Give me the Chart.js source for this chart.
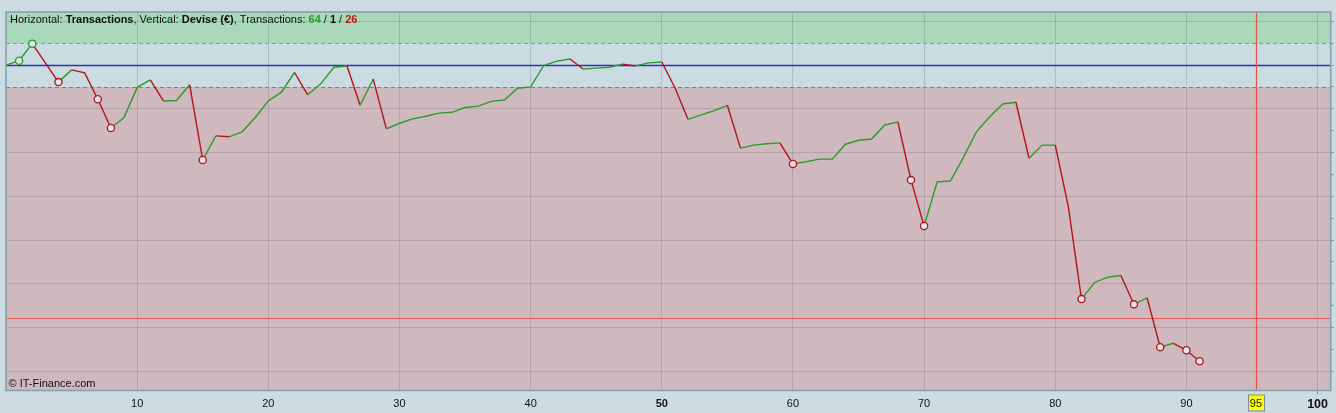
<!DOCTYPE html>
<html>
<head>
<meta charset="utf-8">
<script src="https://cdn.jsdelivr.net/npm/chart.js@4.4.1/dist/chart.umd.min.js"></script>
<style>
  html, body { margin: 0; padding: 0; background: #cddce3; }
  #wrap { width: 1336px; height: 413px; }
</style>
</head>
<body>
<div id="wrap"><canvas id="graph" width="1336" height="413"></canvas></div>
<script>
// Equity per transaction (0 = start)
const equity = [
  0, 0.1, 0.49, 0.05, -0.39, -0.11, -0.18, -0.78, -1.44, -1.2,
  -0.51, -0.34, -0.82, -0.81, -0.45, -2.17, -1.62, -1.64, -1.53, -1.2,
  -0.82, -0.62, -0.17, -0.68, -0.43, -0.05, -0.02, -0.92, -0.32, -1.46,
  -1.33, -1.23, -1.17, -1.1, -1.08, -0.97, -0.94, -0.83, -0.8, -0.53,
  -0.5, -0.01, 0.09, 0.14, -0.09, -0.07, -0.05, 0.02, -0.02, 0.05,
  0.07, -0.52, -1.24, -1.14, -1.04, -0.92, -1.9, -1.83, -1.8, -1.78,
  -2.26, -2.21, -2.15, -2.15, -1.81, -1.72, -1.69, -1.37, -1.3, -2.63,
  -3.68, -2.67, -2.65, -2.11, -1.52, -1.18, -0.89, -0.85, -2.13, -1.83,
  -1.83, -3.24, -5.35, -4.97, -4.85, -4.81, -5.47, -5.32, -6.45, -6.36,
  -6.52, -6.77
]
const upMarkers = [1, 2]
const downMarkers = [4, 7, 8, 15, 60, 69, 70, 82, 86, 88, 90, 91]

// the highlighted tick sits a little right of 95, its label is rounded
const highlightTick = 95.3
const xTickValues = [10, 20, 30, 40, 50, 60, 70, 80, 90, highlightTick, 100]
const boldTicks = [50, 100]
const yTickValues = [1, 0.5, 0, -0.5, -1, -1.5, -2, -2.5, -3, -3.5, -4, -4.5, -5, -5.5, -6, -6.5, -7]

const upperBand = 0.5
const baseLevel = 0
const lowerBand = -0.5
const stopLevel = -5.78

const counts = [64, 1, 26]

const COLOURS = Object.freeze({
  up: '#2b9b2b',
  down: '#b3141c',
  grid: 'rgba(85, 85, 85, 0.22)',
  bandUp: '#a9d8bb',
  bandMid: '#cadbe1',
  bandDown: '#cfb9be',
})

const FONT = 'Liberation Sans, Arial, sans-serif'

const isHighlight = (c) => c.tick && Math.abs(c.tick.value - highlightTick) < 0.01

/**
 * Coloured bands, level lines, the 95 tag, frame and captions.
 */
const decorations = {
  id: 'decorations',
  beforeDraw(chart) {
    const { ctx, chartArea: a, scales: { x, y } } = chart
    const yUp = y.getPixelForValue(upperBand)
    const yLow = y.getPixelForValue(lowerBand)
    ctx.save()
    ctx.fillStyle = COLOURS.bandUp
    ctx.fillRect(a.left, a.top, a.width, yUp - a.top)
    ctx.fillStyle = COLOURS.bandMid
    ctx.fillRect(a.left, yUp, a.width, yLow - yUp)
    ctx.fillStyle = COLOURS.bandDown
    ctx.fillRect(a.left, yLow, a.width, a.bottom - yLow)

    // yellow tag behind the 95 label
    const px = Math.round(x.getPixelForValue(highlightTick))
    ctx.fillStyle = '#ffff00'
    ctx.fillRect(px - 8, a.bottom + 4, 16, 16)
    ctx.strokeStyle = '#7f8c92'
    ctx.lineWidth = 1
    ctx.strokeRect(px - 7.5, a.bottom + 4.5, 16, 16)
    ctx.restore()
  },
  beforeDatasetsDraw(chart) {
    const { ctx, chartArea: a, scales: { x, y } } = chart
    const hline = (v, colour, width, dash) => {
      const py = Math.round(y.getPixelForValue(v)) + 0.5
      ctx.beginPath()
      ctx.setLineDash(dash)
      ctx.strokeStyle = colour
      ctx.lineWidth = width
      ctx.moveTo(a.left, py)
      ctx.lineTo(a.right, py)
      ctx.stroke()
    }
    ctx.save()
    hline(upperBand, '#4fc44f', 1, [4, 3])
    hline(lowerBand, '#d85a5a', 1, [4, 3])
    hline(baseLevel, '#2f2fc4', 1.3, [])
    hline(stopLevel, '#e45a5a', 1.2, [])

    // vertical marker at the highlighted tick
    const px = Math.round(x.getPixelForValue(highlightTick)) + 0.5
    ctx.setLineDash([])
    ctx.strokeStyle = '#e5524c'
    ctx.lineWidth = 1.2
    ctx.beginPath()
    ctx.moveTo(px, a.top)
    ctx.lineTo(px, a.bottom)
    ctx.stroke()
    ctx.restore()
  },
  afterDraw(chart) {
    const { ctx, chartArea: a } = chart
    ctx.save()
    ctx.strokeStyle = '#86a1aa'
    ctx.lineWidth = 1.6
    ctx.strokeRect(a.left, a.top, a.width, a.height)

    // caption line with mixed weights
    const parts = [
      ['Horizontal: ', false, '#111'],
      ['Transactions', true, '#111'],
      [', Vertical: ', false, '#111'],
      ['Devise (€)', true, '#111'],
      [', Transactions: ', false, '#111'],
      [String(counts[0]), true, COLOURS.up],
      [' / ', false, '#111'],
      [String(counts[1]), true, '#111'],
      [' / ', false, '#111'],
      [String(counts[2]), true, '#c01818'],
    ]
    let tx = a.left + 4
    ctx.textBaseline = 'middle'
    parts.forEach(([text, bold, colour]) => {
      ctx.font = (bold ? 'bold ' : '') + '11px ' + FONT
      ctx.fillStyle = colour
      ctx.fillText(text, tx, a.top + 7.5)
      tx += ctx.measureText(text).width
    })

    ctx.font = '11px ' + FONT
    ctx.fillStyle = '#111'
    ctx.fillText('© IT-Finance.com', a.left + 2.5, a.bottom - 6.5)
    ctx.restore()
  },
}

const points = equity.map((v, i) => ({ x: i, y: v }))
const markerColour = (i) => upMarkers.includes(i) ? COLOURS.up : COLOURS.down
const isMarker = (i) => upMarkers.includes(i) || downMarkers.includes(i)

new Chart(document.getElementById('graph'), {
  type: 'line',
  data: {
    datasets: [{
      data: points,
      borderWidth: 1.4,
      borderColor: COLOURS.up,
      tension: 0,
      segment: {
        borderColor: (c) => c.p1.parsed.y >= c.p0.parsed.y ? COLOURS.up : COLOURS.down,
      },
      pointRadius: (c) => isMarker(c.dataIndex) ? 3.6 : 0,
      pointBorderWidth: 1.3,
      pointBorderColor: (c) => markerColour(c.dataIndex),
      pointBackgroundColor: '#dfe5e8',
      clip: false,
    }],
  },
  options: {
    responsive: false,
    animation: false,
    layout: { padding: { left: 6, top: 12, right: 0, bottom: 0 } },
    plugins: { legend: { display: false }, tooltip: { enabled: false } },
    scales: {
      x: {
        type: 'linear',
        min: 0,
        max: 101,
        afterBuildTicks: (s) => { s.ticks = xTickValues.map((v) => ({ value: v })) },
        afterFit: (s) => { s.height = 22.5 },
        border: { display: false },
        grid: {
          color: (c) => isHighlight(c) ? 'transparent' : COLOURS.grid,
          lineWidth: 1,
          tickLength: 4,
          tickColor: (c) => c.tick && c.tick.value === 100 ? '#7f8c92' : 'transparent',
        },
        ticks: {
          autoSkip: false,
          maxRotation: 0,
          padding: 2.5,
          color: '#111',
          callback: (v) => String(Math.round(v)),
          font: (c) => ({
            family: FONT,
            size: c.tick && c.tick.value === 100 ? 12.5 : 11,
            weight: c.tick && boldTicks.includes(c.tick.value) ? 'bold' : 'normal',
          }),
        },
      },
      y: {
        position: 'right',
        min: -7.44,
        max: 1.213,
        afterBuildTicks: (s) => { s.ticks = yTickValues.map((v) => ({ value: v })) },
        afterFit: (s) => { s.width = 3 },
        border: { display: false },
        grid: {
          color: (c) => c.tick && Number.isInteger(c.tick.value) && c.tick.value !== 0 ? COLOURS.grid : 'transparent',
          tickLength: 3,
          tickColor: '#7f8c92',
        },
        ticks: { display: false },
      },
    },
  },
  plugins: [decorations],
})
</script>
</body>
</html>
